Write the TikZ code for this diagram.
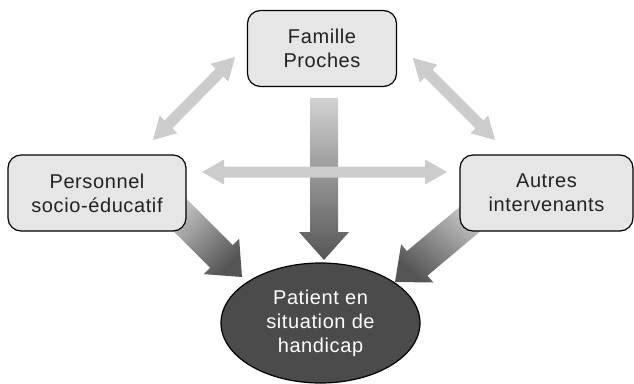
\documentclass[tikz,border=0pt]{standalone}
\usepackage{fontspec}
\setmainfont{Liberation Sans}[LetterSpace=3]
\usetikzlibrary{calc,shapes.geometric}
\definecolor{boxfill}{HTML}{E6E6E6}
\definecolor{lightarrow}{HTML}{CCCCCC}
\definecolor{gradlight}{HTML}{D2D2D2}
\definecolor{graddark}{HTML}{555555}
\definecolor{ellfill}{HTML}{4B4B4B}
\definecolor{txt}{HTML}{222222}
\newcommand\blockarrow[6]{%
  \coordinate (tmph) at ($(#2)!#5!(#1)$);
  \path[#6] ($(#1)!#3!90:(#2)$) -- ($(tmph)!#3!90:(#2)$) -- ($(tmph)!#4!90:(#2)$) -- (#2)
    -- ($(tmph)!#4!-90:(#2)$) -- ($(tmph)!#3!-90:(#2)$) -- ($(#1)!#3!-90:(#2)$) -- cycle;}
\newcommand\dblarrow[6]{%
  \coordinate (tmpa) at ($(#2)!#5!(#1)$);
  \coordinate (tmpb) at ($(#1)!#5!(#2)$);
  \path[#6] (#1) -- ($(tmpb)!#4!90:(#2)$) -- ($(tmpb)!#3!90:(#2)$) -- ($(tmpa)!#3!90:(#2)$)
    -- ($(tmpa)!#4!90:(#2)$) -- (#2) -- ($(tmpa)!#4!-90:(#2)$) -- ($(tmpa)!#3!-90:(#2)$)
    -- ($(tmpb)!#3!-90:(#2)$) -- ($(tmpb)!#4!-90:(#2)$) -- cycle;}
\begin{document}
\begin{tikzpicture}[x=1pt,y=-1pt,
  actor/.style={draw=black, line width=1.2pt, fill=boxfill, rounded corners=13pt,
    align=center, font=\fontsize{20}{24}\selectfont, text=txt, inner sep=0pt},
  patient/.style={ellipse, draw=black, line width=1.2pt, fill=ellfill, align=center,
    font=\fontsize{20}{24}\selectfont, text=white, inner sep=0pt,
    minimum width=199pt, minimum height=120pt},
  light/.style={fill=lightarrow},
  gradv/.style={top color=gradlight, bottom color=graddark},
]
\useasboundingbox (0,0) rectangle (634,383);
% patient
\node[patient] (pat) at (320.5,323) {Patient en\\situation de\\handicap};
% coordinates for connectors
\coordinate (famB) at (324,98);
\coordinate (famT) at (324,260);
\coordinate (perS) at (168,203);
\coordinate (perT) at (242,277);
\coordinate (autS) at (482,209);
\coordinate (autT) at (395,282);
\coordinate (hl) at (202,172);
\coordinate (hr) at (447,172);
\coordinate (tlA) at (153,140);
\coordinate (tlB) at (235,57);
\coordinate (trA) at (413,58);
\coordinate (trB) at (495,140);
% gradient arrows
\blockarrow{famB}{famT}{14pt}{25pt}{28pt}{gradv}
\blockarrow{perS}{perT}{16pt}{25pt}{29pt}{top color=gradlight, bottom color=graddark, shading angle=45}
\blockarrow{autS}{autT}{16pt}{25pt}{29pt}{top color=gradlight, bottom color=graddark, shading angle=-40}
% light double arrows
\dblarrow{hl}{hr}{5.5pt}{12.5pt}{22pt}{light}
\dblarrow{tlA}{tlB}{5.5pt}{12.5pt}{22pt}{light}
\dblarrow{trA}{trB}{5.5pt}{12.5pt}{22pt}{light}
% boxes
\node[actor, minimum width=149pt, minimum height=76pt] (fam) at (322,48.5) {Famille\\Proches};
\node[actor, minimum width=178pt, minimum height=76pt] (per) at (97,193) {Personnel\\socio-éducatif};
\node[actor, minimum width=173pt, minimum height=76pt] (aut) at (546.5,193) {Autres\\intervenants};
\end{tikzpicture}
\end{document}
